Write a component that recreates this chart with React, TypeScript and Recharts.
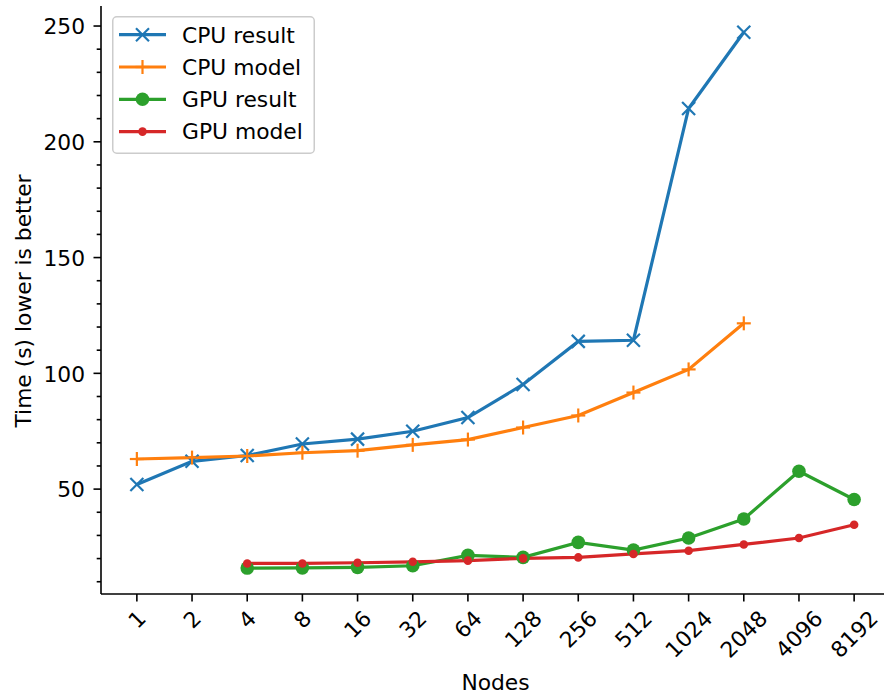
import React from 'react';
import { LineChart, Line, XAxis, YAxis, Legend } from 'recharts';

const nodes = ['1', '2', '4', '8', '16', '32', '64', '128', '256', '512', '1024', '2048', '4096', '8192'];
const cpuResult = [52, 62, 64.5, 69.5, 71.6, 75, 80.9, 95.2, 113.8, 114.3, 214.4, 247.3, null, null];
const cpuModel = [63, 63.6, 64.3, 65.7, 66.6, 69.1, 71.4, 76.6, 81.8, 91.7, 101.7, 121.6, null, null];
const gpuResult = [null, null, 15.9, 16, 16.2, 16.9, 21.4, 20.5, 27, 23.7, 28.9, 37.1, 57.7, 45.5];
const gpuModel = [null, null, 17.9, 17.9, 18.2, 18.6, 19.1, 20.1, 20.5, 22, 23.4, 26.1, 28.9, 34.6];
const yTicks = [10, 20, 30, 40, 50, 60, 70, 80, 90, 100, 110, 120, 130, 140, 150, 160, 170, 180, 190, 200, 210, 220, 230, 240, 250];
const yMajor = [50, 100, 150, 200, 250];

const data = nodes.map((n, i) => ({
  i,
  node: n,
  cpuResult: cpuResult[i],
  cpuModel: cpuModel[i],
  gpuResult: gpuResult[i],
  gpuModel: gpuModel[i],
}));

const FONT = 'DejaVu Sans';
const FS = 21.8;
const BLUE = '#1f77b4';
const ORANGE = '#ff7f0e';
const GREEN = '#2ca02c';
const RED = '#d62728';

const XMark = ({ cx, cy, color }: any) => (
  <g>
    <line x1={cx - 6.5} y1={cy - 6.5} x2={cx + 6.5} y2={cy + 6.5} stroke={color} strokeWidth={2.2} />
    <line x1={cx - 6.5} y1={cy + 6.5} x2={cx + 6.5} y2={cy - 6.5} stroke={color} strokeWidth={2.2} />
  </g>
);
const PlusMark = ({ cx, cy, color }: any) => (
  <g>
    <line x1={cx - 7} y1={cy} x2={cx + 7} y2={cy} stroke={color} strokeWidth={2.2} />
    <line x1={cx} y1={cy - 7} x2={cx} y2={cy + 7} stroke={color} strokeWidth={2.2} />
  </g>
);
const CircleMark = ({ cx, cy, color, r }: any) => <circle cx={cx} cy={cy} r={r} fill={color} stroke="none" />;

const makeDot = (kind: string, color: string) => (props: any) => {
  const { cx, cy, index, value } = props;
  const k = `${kind}-${index}`;
  if (cy == null || cx == null || value == null || isNaN(cy)) return <g key={k} />;
  if (kind === 'x') return <g key={k}><XMark cx={cx} cy={cy} color={color} /></g>;
  if (kind === 'plus') return <g key={k}><PlusMark cx={cx} cy={cy} color={color} /></g>;
  if (kind === 'big') return <g key={k}><CircleMark cx={cx} cy={cy} color={color} r={6.8} /></g>;
  return <g key={k}><CircleMark cx={cx} cy={cy} color={color} r={4.3} /></g>;
};

const YTick = (props: any) => {
  const { x, y, payload } = props;
  const v = payload.value;
  const major = yMajor.includes(v);
  return (
    <g>
      <line x1={x} y1={y} x2={x - (major ? 7.5 : 4.3)} y2={y} stroke="#000" strokeWidth={1.6} />
      {major && (
        <text x={x - 16} y={y} dy={8.3} textAnchor="end" fontFamily={FONT} fontSize={FS} fill="#000">
          {v}
        </text>
      )}
    </g>
  );
};

const XTick = (props: any) => {
  const { x, y, payload } = props;
  const label = nodes[payload.value] ?? '';
  const w = label.length * 0.636 * FS;
  const cy = y + 15 + (w + 15.3) / 2.828;
  return (
    <g>
      <line x1={x} y1={y} x2={x} y2={y + 7.5} stroke="#000" strokeWidth={1.6} />
      <text
        x={x}
        y={cy}
        dy={7.8}
        textAnchor="middle"
        fontFamily={FONT}
        fontSize={FS}
        fill="#000"
        transform={`rotate(-45 ${x} ${cy})`}
      >
        {label}
      </text>
    </g>
  );
};

const legendItems = [
  { name: 'CPU result', color: BLUE, kind: 'x' },
  { name: 'CPU model', color: ORANGE, kind: 'plus' },
  { name: 'GPU result', color: GREEN, kind: 'big' },
  { name: 'GPU model', color: RED, kind: 'small' },
];

const LegendBox = () => (
  <svg width={204} height={139} style={{ display: 'block' }}>
    <rect x={0.75} y={0.75} width={201.5} height={136.5} rx={4} ry={4} fill="#fff" fillOpacity={0.8} stroke="#cccccc" strokeWidth={1.5} />
    {legendItems.map((it, k) => {
      const ry = 18.7 + k * 32.3;
      return (
        <g key={it.name}>
          <line x1={7} y1={ry} x2={54} y2={ry} stroke={it.color} strokeWidth={3.2} />
          {it.kind === 'x' && <XMark cx={30.5} cy={ry} color={it.color} />}
          {it.kind === 'plus' && <PlusMark cx={30.5} cy={ry} color={it.color} />}
          {it.kind === 'big' && <CircleMark cx={30.5} cy={ry} color={it.color} r={6.8} />}
          {it.kind === 'small' && <CircleMark cx={30.5} cy={ry} color={it.color} r={4.3} />}
          <text x={70} y={ry} dy={7.8} fontFamily={FONT} fontSize={FS} fill="#000">
            {it.name}
          </text>
        </g>
      );
    })}
  </svg>
);

const YLabel = (props: any) => {
  const vb = props.viewBox || {};
  const cy = (vb.y ?? 6) + (vb.height ?? 588) / 2 + 1;
  const cx = 31;
  return (
    <text x={cx} y={cy} textAnchor="middle" fontFamily={FONT} fontSize={FS} fill="#000" transform={`rotate(-90 ${cx} ${cy})`}>
      Time (s) lower is better
    </text>
  );
};

const XLabel = (props: any) => {
  const vb = props.viewBox || {};
  const cx = (vb.x ?? 101) + (vb.width ?? 789) / 2;
  return (
    <text x={cx} y={690} textAnchor="middle" fontFamily={FONT} fontSize={FS} fill="#000">
      Nodes
    </text>
  );
};

export default function App() {
  return (
    <div style={{ position: 'absolute', left: 0, top: 0, width: 884, height: 695, overflow: 'hidden', background: '#fff' }}>
      <LineChart width={890} height={695} data={data} margin={{ top: 6, right: 0, left: 0, bottom: 0 }}>
        <XAxis
          dataKey="i"
          type="number"
          domain={[-0.65, 13.65]}
          ticks={[0, 1, 2, 3, 4, 5, 6, 7, 8, 9, 10, 11, 12, 13]}
          interval={0}
          allowDataOverflow
          height={101}
          tickSize={0}
          tickMargin={0}
          tickLine={false}
          axisLine={{ stroke: '#000', strokeWidth: 1.6 }}
          tick={<XTick />}
          label={<XLabel />}
        />
        <XAxis
          xAxisId="top"
          orientation="top"
          dataKey="i"
          type="number"
          domain={[-0.65, 13.65]}
          height={0}
          tick={false}
          tickLine={false}
          axisLine={{ stroke: '#000', strokeWidth: 1.6 }}
        />
        <YAxis
          type="number"
          domain={[4.7, 258.65]}
          ticks={yTicks}
          interval={0}
          allowDataOverflow
          width={101}
          tickSize={0}
          tickMargin={0}
          tickLine={false}
          axisLine={{ stroke: '#000', strokeWidth: 1.6 }}
          tick={<YTick />}
          label={<YLabel />}
        />
        <Legend
          layout="vertical"
          align="center"
          verticalAlign="middle"
          wrapperStyle={{ position: 'absolute', left: 112, top: 16, width: 204, height: 139 }}
          content={<LegendBox />}
        />
        <Line dataKey="cpuResult" stroke={BLUE} strokeWidth={3.2} dot={makeDot('x', BLUE)} activeDot={false} isAnimationActive={false} />
        <Line dataKey="cpuModel" stroke={ORANGE} strokeWidth={3.2} dot={makeDot('plus', ORANGE)} activeDot={false} isAnimationActive={false} />
        <Line dataKey="gpuResult" stroke={GREEN} strokeWidth={3.2} dot={makeDot('big', GREEN)} activeDot={false} isAnimationActive={false} />
        <Line dataKey="gpuModel" stroke={RED} strokeWidth={3.2} dot={makeDot('small', RED)} activeDot={false} isAnimationActive={false} />
      </LineChart>
    </div>
  );
}
